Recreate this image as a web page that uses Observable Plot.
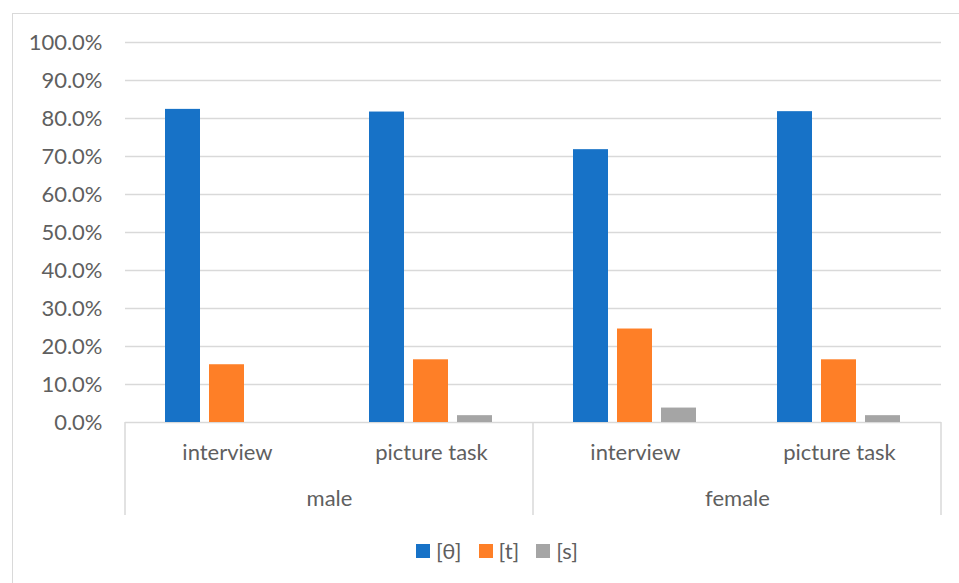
<!DOCTYPE html>
<html>
<head>
<meta charset="utf-8">
<script src="https://cdn.jsdelivr.net/npm/d3@7"></script>
<script src="https://cdn.jsdelivr.net/npm/@observablehq/plot@0.6"></script>
<style>
  html, body { margin: 0; padding: 0; background: #fff; overflow: hidden; }
  body { width: 959px; height: 583px; position: relative; font-family: Lato, sans-serif; }
  #frame { position: absolute; left: 12px; top: 13px; width: 1200px; height: 800px;
           border: 1.5px solid #d9d9d9; box-sizing: border-box; }
  #chart { position: absolute; left: 0; top: 0; }
  #legend { position: absolute; left: 416px; top: 537px; }
  .lg-swatches { font-family: Lato, sans-serif; font-size: 22px; color: #5f5f5f; margin: 0 !important; min-height: 0 !important; }
  .lg-swatch { margin-right: 17px !important; }
  .lg-swatch > svg { margin-right: 6px !important; }
</style>
</head>
<body>
<div id="frame"></div>
<div id="chart"></div>
<div id="legend"></div>
<script>
// Categories and series
const genders = ["male", "female"];
const tasks = ["interview", "picture task"];
const series = ["[θ]", "[t]", "[s]"];
const colors = ["#1772c7", "#fe7f27", "#a5a5a5"];

// Percent values per category, ordered male interview, male picture task,
// female interview, female picture task
const thetaValues = [82.4, 81.7, 71.8, 81.8];
const tValues = [15.2, 16.5, 24.6, 16.5];
const sValues = [0, 1.8, 3.8, 1.8];

// Y axis ticks (percent)
const yTicks = [0, 10, 20, 30, 40, 50, 60, 70, 80, 90, 100];

const seriesValues = [thetaValues, tValues, sValues];
const groups = genders.flatMap(g => tasks.map(t => ({gender: g, task: t, key: g + "|" + t})));
const keys = groups.map(d => d.key);
const rows = groups.flatMap((g, i) =>
  series.map((s, j) => ({...g, series: s, value: seriesValues[j][i]})));
const genderLabels = genders.map(g => ({gender: g, key: g + "|" + tasks[0]}));

const gridColor = "#d9d9d9";
const textColor = "#5f5f5f";

const chart = Plot.plot({
  width: 959,
  height: 530,
  marginTop: 42,
  marginBottom: 108,
  marginLeft: 123,
  marginRight: 17,
  style: {fontFamily: "Lato, sans-serif", fontSize: "22px", color: textColor, background: "transparent", overflow: "visible"},
  fx: {domain: keys, paddingInner: 0, paddingOuter: 0, label: null, axis: null},
  x: {domain: series, paddingInner: 0.2, paddingOuter: 0.878, axis: null},
  y: {domain: [0, 100], label: null, axis: null},
  color: {domain: series, range: colors},
  marks: [
    Plot.gridY(yTicks, {stroke: gridColor, strokeOpacity: 1, strokeWidth: 1.5}),
    Plot.axisY(yTicks, {tickSize: 0, tickPadding: 23, fontSize: 22, tickFormat: d => d.toFixed(1) + "%", label: null}),
    Plot.barY(rows, {fx: "key", x: "series", y: "value", fill: "series"}),
    Plot.axisFx({anchor: "bottom", tickFormat: k => k.split("|")[1], tickSize: 0, tickPadding: 22, fontSize: 22, label: null}),
    Plot.text(genderLabels, {fx: "key", text: "gender", frameAnchor: "bottom-right",
      textAnchor: "middle", lineAnchor: "middle", dy: 76, fontSize: 22, fill: "currentColor"})
  ]
});

// Category separators of the two-level axis, placed from the fx scale
const fx = chart.scale("fx");
const y = chart.scale("y");
const base = y.apply(0);
const edges = [fx.apply(keys[0]), fx.apply(keys[2]), fx.apply(keys[3]) + fx.bandwidth];
d3.select(chart).append("g")
  .attr("stroke", gridColor)
  .attr("stroke-width", 1.5)
  .selectAll("line")
  .data(edges)
  .join("line")
  .attr("x1", d => d).attr("x2", d => d)
  .attr("y1", base).attr("y2", base + 93);

document.getElementById("chart").append(chart);

const legend = Plot.legend({
  color: {domain: series, range: colors},
  swatchSize: 14,
  className: "lg"
});
document.getElementById("legend").append(legend);
</script>
</body>
</html>
